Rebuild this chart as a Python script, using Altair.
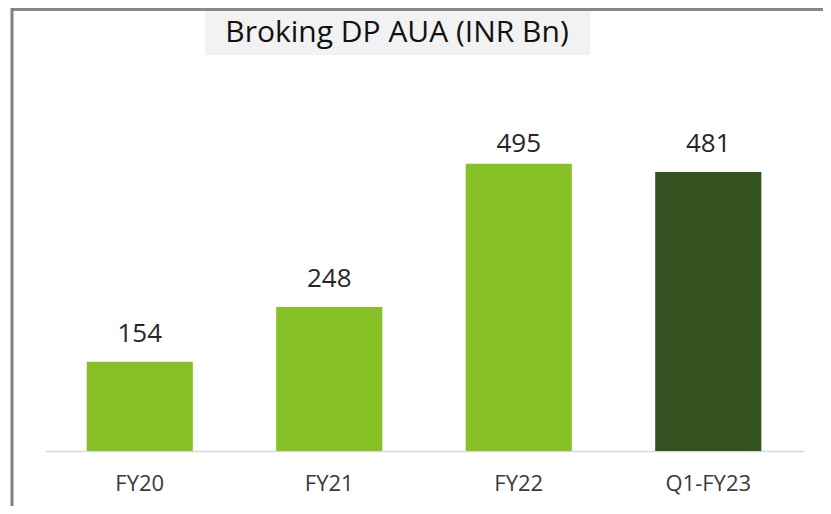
import altair as alt
import pandas as pd

categories = ["FY20", "FY21", "FY22", "Q1-FY23"]
values = [154, 248, 495, 481]
bar_colors = ["#86C226", "#86C226", "#86C226", "#33521F"]
title_text = ["Broking DP AUA (INR Bn)"]

df = pd.DataFrame({"cat": categories, "val": values, "color": bar_colors})

W, H = 758, 351
FONT = "Open Sans"

x = alt.X("cat:N", sort=categories,
          scale=alt.Scale(paddingInner=0.44, paddingOuter=0.22),
          axis=alt.Axis(title=None, labelAngle=0, ticks=False, domainColor="#D9D9D9",
                        domainWidth=1.5, labelFont=FONT, labelFontSize=22,
                        labelColor="#3A3A3A", labelPadding=22))
yscale = alt.Scale(domain=[0, 605])
y = alt.Y("val:Q", scale=yscale, axis=None)

bars = alt.Chart(df).mark_bar().encode(
    x=x, y=y, color=alt.Color("color:N", scale=None))

# data labels: placed above bar ends, clamped at the plot-area top like the source
labels = alt.Chart(df).transform_calculate(
    lab="min(datum.val, 481)"
).mark_text(font=FONT, fontSize=26, color="#262626",
            baseline="alphabetic", dy=-20).encode(
    x=alt.X("cat:N", sort=categories),
    y=alt.Y("lab:Q", scale=yscale, axis=None),
    text="val:Q")

tdf = pd.DataFrame({"t": title_text})
title_bg = alt.Chart(tdf).mark_rect(color="#F2F2F2").encode(
    x=alt.value(160), x2=alt.value(545), y=alt.value(-89), y2=alt.value(-45))
title = alt.Chart(tdf).mark_text(font=FONT, fontSize=30, color="#111111",
                                 baseline="alphabetic", align="center").encode(
    x=alt.value(352), y=alt.value(-58), text="t:N")

top_border = alt.Chart(tdf).mark_rule(color="#888888", strokeWidth=3).encode(
    x=alt.value(-34), x2=alt.value(W + 40), y=alt.value(-90.5))
left_border = alt.Chart(tdf).mark_rule(color="#808080", strokeWidth=3).encode(
    x=alt.value(-33), y=alt.value(-92), y2=alt.value(H + 80))

chart = alt.layer(top_border, left_border, title_bg, title, bars, labels).properties(
    width=W, height=H,
    background="white",
    padding={"left": 37, "top": 92, "right": 20, "bottom": 55},
    autosize=alt.AutoSizeParams(type="none"),
).configure_view(stroke="transparent", strokeWidth=0)

chart.save("out.html", embed_options={"renderer": "svg", "actions": False})
